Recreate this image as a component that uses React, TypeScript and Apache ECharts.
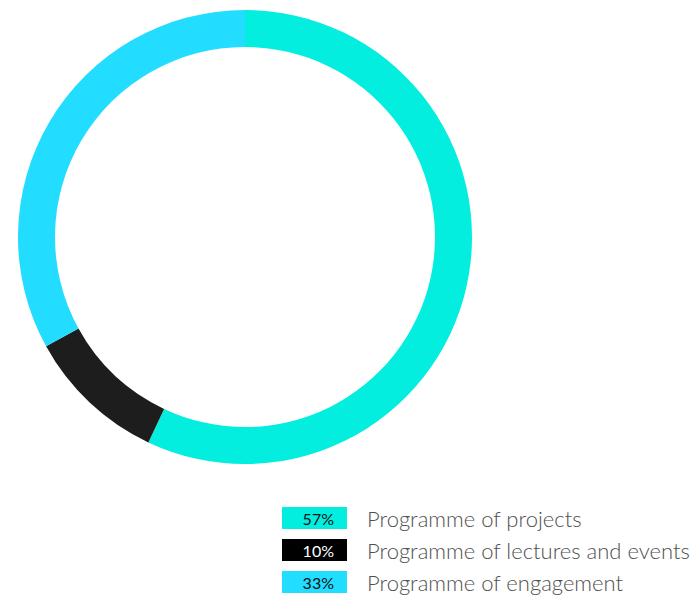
import React, { useEffect, useRef } from "react";
import * as echarts from "echarts";

const categories = ["Programme of projects", "Programme of lectures and events", "Programme of engagement"];
const values = [57, 10, 33];
const colors = ["#03EEDF", "#1D1D1D", "#22DDFF"];
const legendBoxColors = ["#03EEDF", "#000000", "#22DDFF"];
const percentTextColors = ["#111111", "#FFFFFF", "#111111"];

export default function App() {
  const ref = useRef<HTMLDivElement>(null);
  useEffect(() => {
    if (!ref.current) return;
    const chart = echarts.init(ref.current, undefined, { renderer: "svg" });
    const legendX = 282;
    const legendY = 507;
    const step = 32;
    const legendGraphics: any[] = [];
    categories.forEach((name, i) => {
      const y = legendY + i * step;
      legendGraphics.push({
        type: "rect",
        shape: { x: legendX, y, width: 65, height: 22 },
        style: { fill: legendBoxColors[i] },
      });
      legendGraphics.push({
        type: "text",
        x: legendX + 52,
        y: y + 11,
        style: {
          text: values[i] + "%",
          fill: percentTextColors[i],
          font: "400 16px Lato, 'Open Sans', sans-serif",
          align: "right",
          verticalAlign: "middle",
        },
      });
      legendGraphics.push({
        type: "text",
        x: legendX + 85,
        y: y + 11,
        style: {
          text: name,
          fill: "#505050",
          font: "300 22px Lato, 'Open Sans', sans-serif",
          align: "left",
          verticalAlign: "middle",
        },
      });
    });
    chart.setOption({
      animation: false,
      backgroundColor: "#ffffff",
      series: [
        {
          type: "pie",
          center: [245, 237],
          radius: [190, 227],
          startAngle: 90,
          clockwise: true,
          label: { show: false },
          labelLine: { show: false },
          silent: true,
          data: categories.map((name, i) => ({
            name,
            value: values[i],
            itemStyle: { color: colors[i], borderWidth: 0 },
          })),
        },
      ],
      graphic: legendGraphics,
    });
    return () => chart.dispose();
  }, []);
  return (
    <div
      ref={ref}
      style={{ position: "absolute", left: 0, top: 0, width: 697, height: 596 }}
    />
  );
}
